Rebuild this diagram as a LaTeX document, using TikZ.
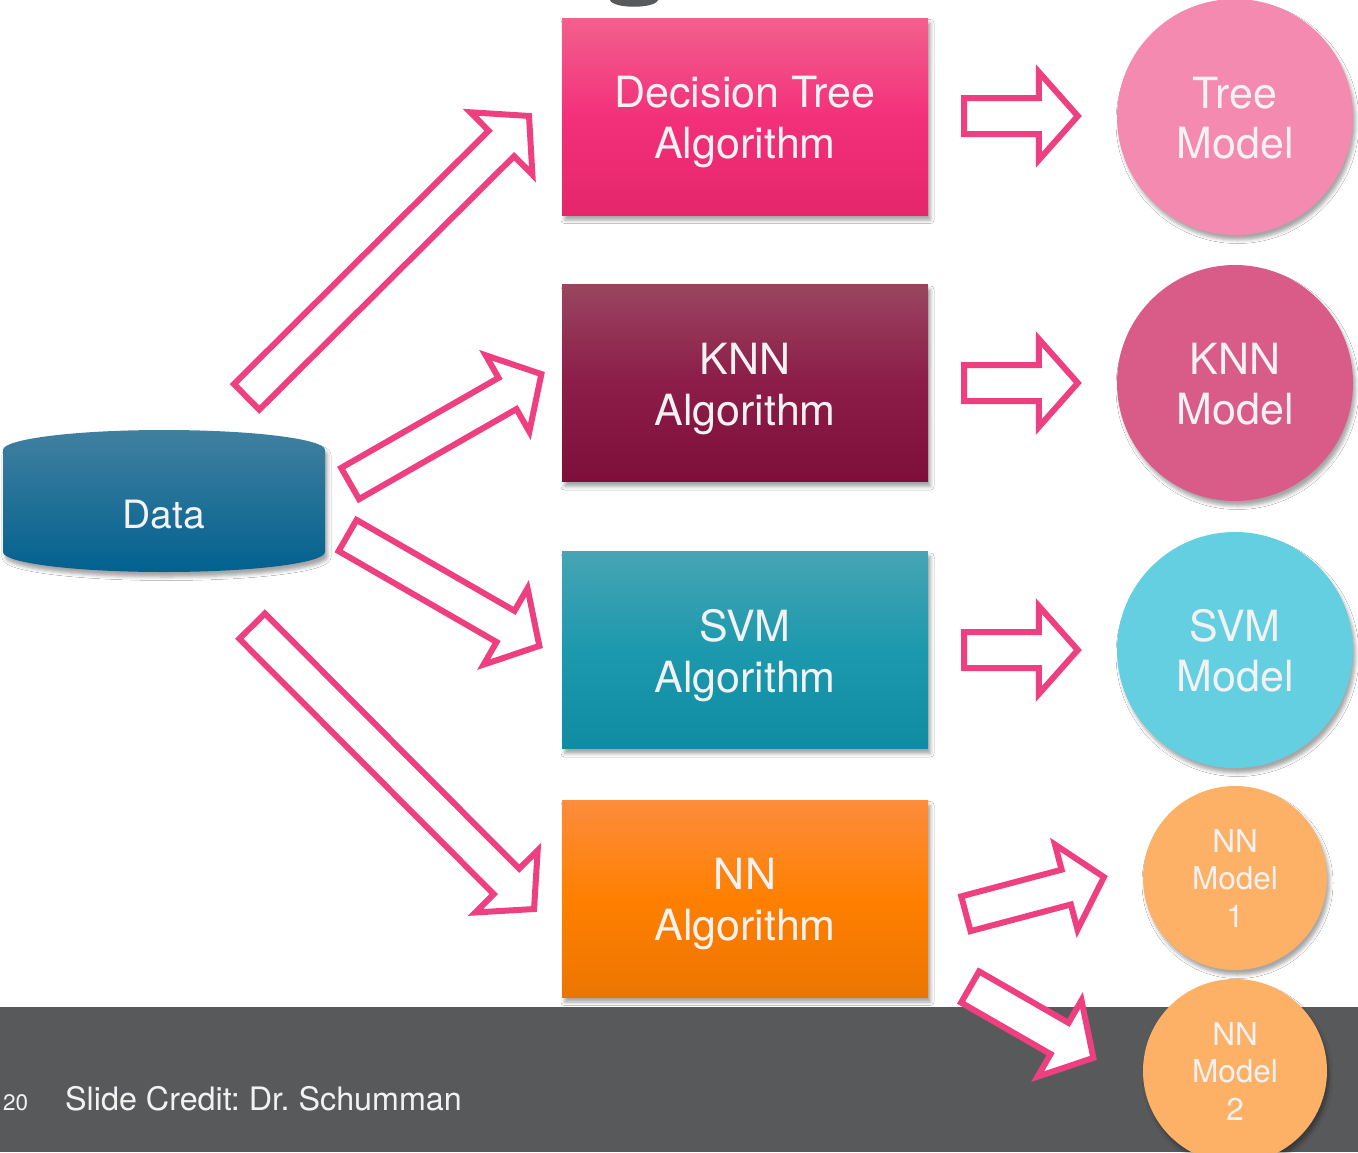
\documentclass[tikz,border=0pt]{standalone}
\usepackage{fontspec}
\setmainfont{TeX Gyre Heros}
\usetikzlibrary{calc,shadows.blur}

\definecolor{arrowpink}{RGB}{238,64,128}
\definecolor{footgray}{RGB}{88,89,91}
\definecolor{textwhite}{RGB}{242,242,242}
\definecolor{dtTop}{RGB}{242,96,142}
\definecolor{dtMid}{RGB}{243,48,122}
\definecolor{dtBot}{RGB}{229,38,107}
\definecolor{knnTop}{RGB}{154,69,96}
\definecolor{knnMid}{RGB}{140,28,72}
\definecolor{knnBot}{RGB}{126,14,58}
\definecolor{svmTop}{RGB}{70,164,181}
\definecolor{svmMid}{RGB}{28,153,173}
\definecolor{svmBot}{RGB}{15,140,162}
\definecolor{nnTop}{RGB}{253,140,60}
\definecolor{nnMid}{RGB}{255,128,0}
\definecolor{nnBot}{RGB}{236,117,2}
\definecolor{treeC}{RGB}{244,138,176}
\definecolor{knnC}{RGB}{217,91,136}
\definecolor{svmC}{RGB}{100,207,225}
\definecolor{nnC}{RGB}{253,177,102}
\definecolor{dataTop}{RGB}{64,128,160}
\definecolor{dataBot}{RGB}{2,97,143}

% hollow block arrow between two named points (outer tail middle, outer tip)
\newcommand\blockarrow[2]{%
  \coordinate (ba-t) at ($(#1)!3pt!(#2)$);
  \coordinate (ba-h) at ($(#2)!4.2pt!(#1)$);
  \coordinate (ba-b) at ($(ba-h)!39pt!(ba-t)$);
  \draw[blockline]
    ($(ba-t)!18pt!90:(ba-h)$) -- ($(ba-b)!18pt!90:(ba-h)$) -- ($(ba-b)!44pt!90:(ba-h)$)
    -- (ba-h) -- ($(ba-b)!44pt!-90:(ba-h)$) -- ($(ba-b)!18pt!-90:(ba-h)$)
    -- ($(ba-t)!18pt!-90:(ba-h)$) -- cycle;
}

% multi-line node text: the box height is measured from the last baseline
\tikzset{
  softshadow/.style={blur shadow={shadow xshift=2.5pt, shadow yshift=-5pt,
      shadow blur radius=3.5pt, shadow opacity=35}},
  algbox/.style={rectangle, minimum width=366pt, minimum height=197pt,
      inner sep=0pt, text=textwhite, align=center, text height=84pt, text depth=0pt,
      font=\fontsize{43}{51}\selectfont, softshadow},
  model/.style={circle, minimum size=236pt, inner sep=0pt, text=textwhite,
      align=center, text height=82pt, text depth=0pt,
      font=\fontsize{43}{50}\selectfont, softshadow},
  smallmodel/.style={model, minimum size=184pt, text height=98pt,
      font=\fontsize{31.5}{37.5}\selectfont},
  blockline/.style={draw=arrowpink, line width=6pt, fill=white, line join=miter},
  foottext/.style={anchor=base west, inner sep=0pt, text=textwhite}
}

\begin{document}
\frenchspacing
\begin{tikzpicture}[x=1pt, y=-1pt]
  \useasboundingbox (0,0) rectangle (1358,1152);
  \clip (0,0) rectangle (1358,1152);
  \fill[white] (0,0) rectangle (1358,1152);

  % footer band and text
  \fill[footgray] (0,1007) rectangle (1358,1152);
  \node[foottext, font=\fontsize{22.5}{27}\selectfont] (pagenum) at (3,1110) {20};
  \node[foottext, font=\fontsize{32.3}{38}\selectfont] (credit) at (65,1110) {Slide Credit: Dr. Schumman};

  % descender of the title above
  \fill[footgray] (610,0) .. controls (613,9) and (655,9) .. (658,0) -- cycle;

  % algorithm boxes
  \node[algbox, top color=dtTop, bottom color=dtBot, middle color=dtMid] (dt) at (745,116.5) {Decision Tree\\Algorithm};
  \node[algbox, top color=knnTop, bottom color=knnBot, middle color=knnMid] (knn) at (745,383) {KNN\\Algorithm};
  \node[algbox, top color=svmTop, bottom color=svmBot, middle color=svmMid] (svm) at (745,650) {SVM\\Algorithm};
  \node[algbox, top color=nnTop, bottom color=nnBot, middle color=nnMid] (nn) at (745,898.5) {NN\\Algorithm};

  % resulting models
  \node[model, fill=treeC] (treem) at (1235,117) {Tree\\Model};
  \node[model, fill=knnC] (knnm) at (1235,383) {KNN\\Model};
  \node[model, fill=svmC] (svmm) at (1235,650) {SVM\\Model};
  \node[smallmodel, fill=nnC] (nnm1) at (1235,878) {NN\\Model\\1};
  \node[smallmodel, fill=nnC] (nnm2) at (1235,1071) {NN\\Model\\2};

  % data store
  \path[top color=dataTop, bottom color=dataBot, softshadow]
    (3,450) .. controls (3,439) and (75,430) .. (164,430)
    .. controls (253,430) and (325,439) .. (325,450) -- (325,552)
    .. controls (325,563) and (253,572) .. (164,572)
    .. controls (75,572) and (3,563) .. (3,552) -- cycle;
  \node[text=textwhite, font=\fontsize{39}{47}\selectfont, inner sep=0pt] (data) at (164,515) {Data};

  % arrow end points
  \coordinate (a1t) at (244.5,399);  \coordinate (a1h) at (532,113);
  \coordinate (a2t) at (347.5,485);  \coordinate (a2h) at (545,372);
  \coordinate (a3t) at (345,534);    \coordinate (a3h) at (543,648);
  \coordinate (a4t) at (250,624);    \coordinate (a4h) at (537,912);
  \coordinate (h1t) at (961,116);    \coordinate (h1h) at (1082,116);
  \coordinate (h2t) at (961,383);    \coordinate (h2h) at (1082,383);
  \coordinate (h3t) at (961,650);    \coordinate (h3h) at (1082,650);
  \coordinate (a5t) at (963,914.5);  \coordinate (a5h) at (1108,876);
  \coordinate (a6t) at (967.5,985.5); \coordinate (a6h) at (1097,1060);

  \blockarrow{a1t}{a1h}
  \blockarrow{a2t}{a2h}
  \blockarrow{a3t}{a3h}
  \blockarrow{a4t}{a4h}
  \blockarrow{h1t}{h1h}
  \blockarrow{h2t}{h2h}
  \blockarrow{h3t}{h3h}
  \blockarrow{a5t}{a5h}
  \blockarrow{a6t}{a6h}
\end{tikzpicture}
\end{document}
